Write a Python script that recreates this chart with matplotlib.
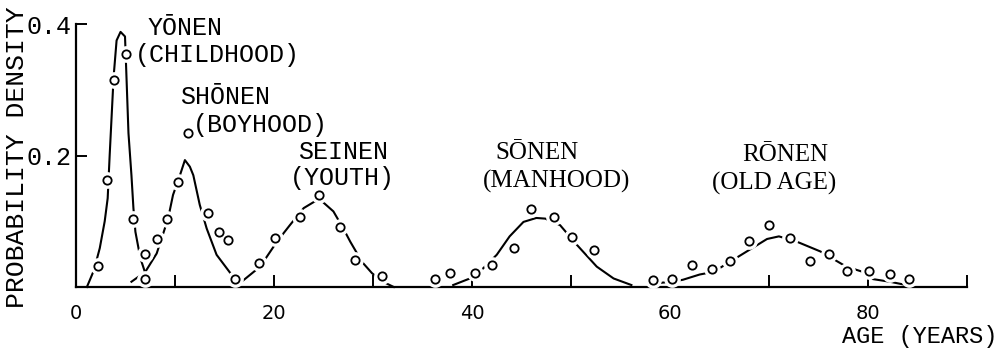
#!/usr/bin/env python3

import matplotlib
matplotlib.use('Agg')
import matplotlib.pyplot as plt

# observed age-class densities (open circles)
child_age = [2.2, 3.1, 3.8, 5.0, 5.8, 7.0]
child_dens = [0.032, 0.163, 0.315, 0.355, 0.103, 0.012]
boy_age = [7.0, 8.2, 9.2, 10.3, 11.3, 13.3, 14.4, 15.4]
boy_dens = [0.050, 0.073, 0.103, 0.159, 0.234, 0.112, 0.084, 0.071]
youth_age = [16.1, 18.5, 20.1, 22.6, 24.5, 26.7, 28.2, 30.9]
youth_dens = [0.012, 0.036, 0.075, 0.107, 0.140, 0.092, 0.041, 0.017]
man_age = [36.3, 37.8, 40.3, 42.0, 44.2, 46.0, 48.3, 50.1, 52.3]
man_dens = [0.012, 0.021, 0.022, 0.034, 0.060, 0.118, 0.106, 0.076, 0.056]
old_age = [58.3, 60.2, 62.2, 64.2, 66.1, 68.0, 70.0, 72.1, 74.1, 76.1, 77.9, 80.1, 82.2, 84.1]
old_dens = [0.011, 0.012, 0.034, 0.027, 0.040, 0.070, 0.094, 0.075, 0.040, 0.050, 0.025, 0.025, 0.020, 0.012]

# fitted curves
child_fit_age = [1.1, 1.8, 2.4, 2.9, 3.2, 3.4, 3.8, 4.1, 4.5, 4.95, 5.05, 5.3, 5.6, 5.8, 6.0, 6.5, 7.0, 7.5]
child_fit_dens = [0.0, 0.025, 0.059, 0.100, 0.135, 0.200, 0.320, 0.375, 0.388, 0.381, 0.340, 0.234, 0.170, 0.120, 0.084, 0.044, 0.021, 0.008]
boy_fit_age = [5.6, 7.0, 8.15, 9.3, 9.8, 10.5, 11.0, 11.5, 11.85, 12.5, 13.2, 14.2, 15.6]
boy_fit_dens = [0.008, 0.023, 0.051, 0.104, 0.140, 0.170, 0.193, 0.183, 0.170, 0.125, 0.089, 0.049, 0.021]
youth_fit_age = [16.4, 18.6, 20.3, 21.6, 23.0, 24.1, 24.8, 26.0, 27.0, 27.7, 28.9, 29.9, 31.0, 32.1]
youth_fit_dens = [0.004, 0.031, 0.069, 0.094, 0.120, 0.130, 0.131, 0.115, 0.089, 0.069, 0.038, 0.021, 0.008, 0.0]
man_fit_age = [38.1, 40.3, 42.5, 43.8, 45.2, 46.5, 47.4, 48.9, 50.6, 52.6, 54.3, 56.1]
man_fit_dens = [0.003, 0.016, 0.049, 0.077, 0.099, 0.105, 0.104, 0.094, 0.064, 0.031, 0.013, 0.003]
old_fit_age = [58.8, 60.2, 61.3, 63.0, 64.4, 67.1, 69.8, 71.0, 72.8, 75.2, 77.8, 79.9, 80.5, 82.2, 84.2]
old_fit_dens = [0.006, 0.008, 0.011, 0.019, 0.023, 0.048, 0.073, 0.077, 0.069, 0.054, 0.031, 0.021, 0.012, 0.008, 0.002]

# stage names: (name, reading, x of name, x of reading, y of name, y of reading)
stage_labels = [
    ('YŌNEN', '(CHILDHOOD)', 7.2, 5.96, 0.394, 0.353),
    ('SHŌNEN', '(BOYHOOD)', 10.5, 11.8, 0.289, 0.246),
    ('SEINEN', '(YOUTH)', 22.4, 21.6, 0.206, 0.166),
    ('SŌNEN', '(MANHOOD)', 42.4, 41.1, 0.204, 0.160),
    ('RŌNEN', '(OLD AGE)', 67.3, 64.2, 0.201, 0.158),
]

x_ticks = [0, 10, 20, 30, 40, 50, 60, 70, 80, 90]
x_ticklabels = ['0', '', '20', '', '40', '', '60', '', '80', '']
y_ticks = [0.2, 0.4]
y_ticklabels = ['0.2', '0.4']

MONO = 'Liberation Mono'
SERIF = 'Liberation Serif'

fig = plt.figure(figsize=(10.01, 3.5), dpi=100)
ax = fig.add_axes([76 / 1001, 63 / 350, 891 / 1001, 263 / 350])

series = [
    (child_age, child_dens, child_fit_age, child_fit_dens),
    (boy_age, boy_dens, boy_fit_age, boy_fit_dens),
    (youth_age, youth_dens, youth_fit_age, youth_fit_dens),
    (man_age, man_dens, man_fit_age, man_fit_dens),
    (old_age, old_dens, old_fit_age, old_fit_dens),
]
for ages, dens, fit_a, fit_d in series:
    ax.plot(fit_a, fit_d, color='black', lw=1.5, clip_on=False, zorder=2)
    # white halo so the curve breaks around each circle
    ax.plot(ages, dens, 'o', ms=11, color='white', mec='white', clip_on=False, zorder=3)
    ax.plot(ages, dens, 'o', ms=6, mfc='white', mec='black', mew=1.3, clip_on=False, zorder=4)

for name, reading, xn, xr, yn, yr in stage_labels:
    fam = MONO if name in ('YŌNEN', 'SHŌNEN', 'SEINEN') else SERIF
    size = 18 if fam == MONO else 18
    ax.text(xn, yn, name, family=fam, fontsize=size, ha='left', va='center')
    ax.text(xr, yr, reading, family=fam, fontsize=size, ha='left', va='center')

ax.set_xlim(0, 90)
ax.set_ylim(0, 0.4)
ax.spines['top'].set_visible(False)
ax.spines['right'].set_visible(False)
ax.spines['left'].set_linewidth(1.6)
ax.spines['bottom'].set_linewidth(1.6)

ax.set_xticks(x_ticks)
ax.set_xticklabels(x_ticklabels, family='DejaVu Sans', fontsize=14)
ax.set_yticks(y_ticks)
ax.set_yticklabels(y_ticklabels, family=MONO, fontsize=18)
ax.tick_params(axis='x', direction='in', length=9, width=1.4, pad=12)
ax.tick_params(axis='y', direction='in', length=8, width=1.4, pad=3)

fig.text(17.5 / 1001, 1 - 157 / 350, 'PROBABILITY DENSITY', family=MONO, fontsize=19,
         rotation=90, ha='center', va='center')
fig.text(997 / 1001, 1 - 336 / 350, 'AGE (YEARS)', family=MONO, fontsize=17,
         ha='right', va='center')

fig.savefig('out.png', dpi=100)
plt.close(fig)
